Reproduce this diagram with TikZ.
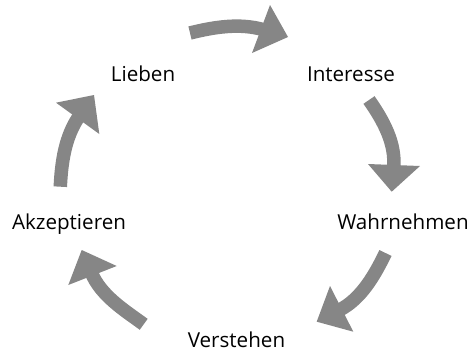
\documentclass[tikz,border=0pt]{standalone}
\usepackage{fontspec}
\setmainfont{Open Sans}
\definecolor{arrowgray}{RGB}{134,134,134}
\begin{document}
\begin{tikzpicture}[x=1pt,y=-1pt,
  lbl/.style={font=\fontsize{20.6}{24}\selectfont, anchor=base, inner sep=0pt, text=black},
  shaft/.style={draw=arrowgray, line width=13.5pt, line cap=butt},
  head/.style={fill=arrowgray, draw=none}]
\useasboundingbox (0,0) rectangle (471,351);
% labels
\node[lbl] (lieben) at (143,81) {Lieben};
\node[lbl] (interesse) at (351,81) {Interesse};
\node[lbl] (wahrnehmen) at (403,229) {Wahrnehmen};
\node[lbl] (verstehen) at (236.5,347) {Verstehen};
\node[lbl] (akzeptieren) at (69,229) {Akzeptieren};
% arrow 1 (Lieben -> Interesse)
\coordinate (t1) at (190,33);
\coordinate (e1) at (263.9,29.8);
\coordinate (h1a) at (270,5);
\coordinate (h1b) at (252,53);
\coordinate (h1t) at (288,37);
\draw[shaft] (t1) .. controls (214,27) and (239.9,22.8) .. (e1);
\fill[head] (h1a) -- (h1t) -- (h1b) -- cycle;
% arrow 2 (Interesse -> Wahrnehmen)
\coordinate (t2) at (369,100);
\coordinate (e2) at (393.7,168);
\coordinate (h2a) at (368,164);
\coordinate (h2b) at (420,166);
\coordinate (h2t) at (391.7,191.7);
\draw[shaft] (t2) .. controls (383.3,120.5) and (395.9,143.1) .. (e2);
\fill[head] (h2a) -- (h2t) -- (h2b) -- cycle;
% arrow 3 (Wahrnehmen -> Verstehen)
\coordinate (t3) at (385.5,253);
\coordinate (e3) at (339,310.3);
\coordinate (h3a) at (330,286);
\coordinate (h3b) at (353.3,331.7);
\coordinate (h3t) at (316.7,321.7);
\draw[shaft] (t3) .. controls (374.5,275.5) and (361.3,298.9) .. (e3);
\fill[head] (h3a) -- (h3t) -- (h3b) -- cycle;
% arrow 4 (Verstehen -> Akzeptieren)
\coordinate (t4) at (143.7,324.3);
\coordinate (e4) at (91.3,272.7);
\coordinate (h4a) at (68.3,285);
\coordinate (h4b) at (116.7,266);
\coordinate (h4t) at (81.7,250);
\draw[shaft] (t4) .. controls (123.5,309.6) and (101.1,295.7) .. (e4);
\fill[head] (h4a) -- (h4t) -- (h4b) -- cycle;
% arrow 5 (Akzeptieren -> Lieben)
\coordinate (t5) at (60.3,186.7);
\coordinate (e5) at (79.4,115.8);
\coordinate (h5a) at (56,102.7);
\coordinate (h5b) at (99.3,134);
\coordinate (h5t) at (94,95);
\draw[shaft] (t5) .. controls (61.5,161.7) and (65.1,136.3) .. (e5);
\fill[head] (h5a) -- (h5t) -- (h5b) -- cycle;
\end{tikzpicture}
\end{document}
